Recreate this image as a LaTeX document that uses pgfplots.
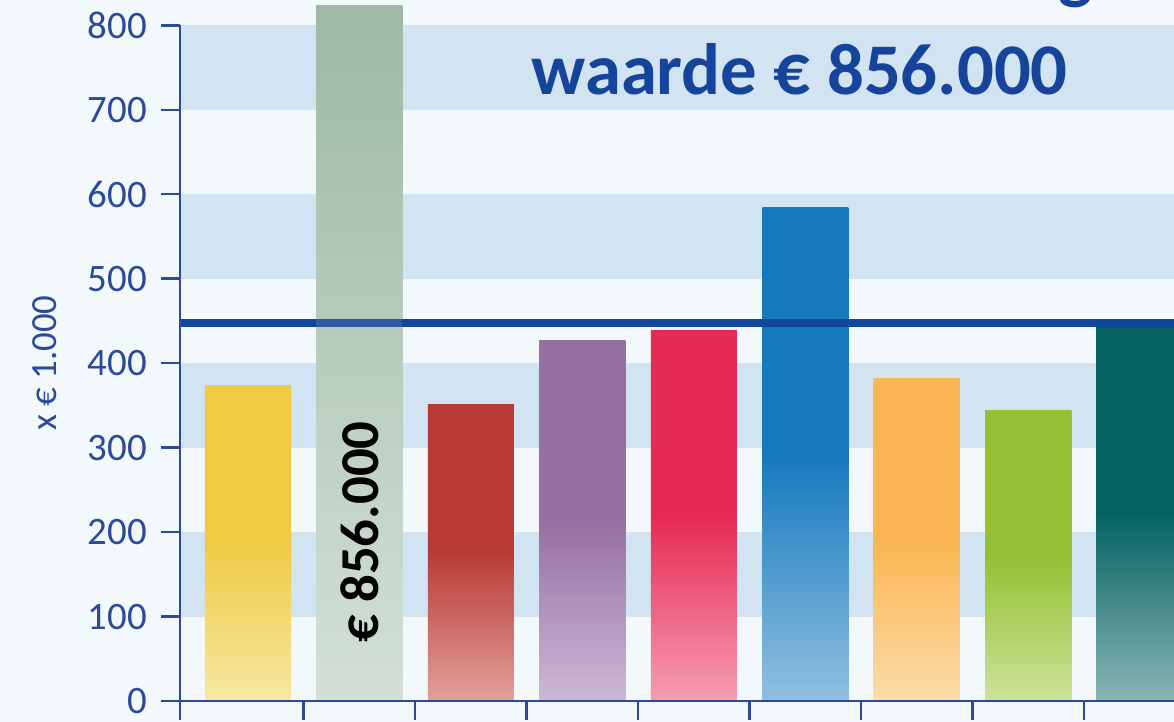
\documentclass[border=0pt]{standalone}
\usepackage{fontspec}
\setmainfont{Carlito}
\usepackage{pgfplots}
\pgfplotsset{compat=1.18}
\definecolor{bg}{HTML}{F3F8FC}
\definecolor{band}{HTML}{D2E4F1}
\definecolor{axc}{HTML}{2B4A9B}
\definecolor{ttl}{HTML}{16449A}
\definecolor{avg}{HTML}{12469A}
\definecolor{avgL}{HTML}{2F5BA0}
\definecolor{c1t}{HTML}{EECB43}\definecolor{c1b}{HTML}{F8E7A3}
\definecolor{c2t}{HTML}{9DB9A5}\definecolor{c2b}{HTML}{D3E0D7}
\definecolor{c3t}{HTML}{B93A35}\definecolor{c3b}{HTML}{E2A19C}
\definecolor{c4t}{HTML}{9670A3}\definecolor{c4b}{HTML}{CDB8D6}
\definecolor{c5t}{HTML}{E62A55}\definecolor{c5b}{HTML}{F59DB3}
\definecolor{c6t}{HTML}{1579BE}\definecolor{c6b}{HTML}{91C0E0}
\definecolor{c7t}{HTML}{FAB652}\definecolor{c7b}{HTML}{FCDCA9}
\definecolor{c8t}{HTML}{94C133}\definecolor{c8b}{HTML}{CDE29A}
\definecolor{c9t}{HTML}{046262}\definecolor{c9b}{HTML}{8AB5B5}
\pgfplotsset{
  mybar/.style={ybar, bar width=0.772, bar shift=0pt, draw=none, forget plot},
}
\begin{document}
\begin{tikzpicture}[x=1bp,y=1bp]
\fill[bg] (0,0) rectangle (1174,722);
\begin{axis}[
  at={(180bp,21bp)}, anchor=south west,
  width=994bp, height=675.7bp, scale only axis,
  xmin=-0.61, xmax=8.308, ymin=0, ymax=800,
  clip=false, axis on top=true,
  axis x line*=bottom, axis y line*=left,
  axis line style={axc, line width=2.5bp},
  tick style={axc, line width=2.5bp},
  major tick length=19bp, tick align=outside,
  xtick={-0.61,0.5,1.5,2.5,3.5,4.5,5.5,6.5,7.5},
  xticklabels={},
  ytick={0,100,...,800},
  yticklabel style={font=\fontsize{39}{47}\selectfont, text=axc, inner sep=0pt, xshift=-14bp},
  /pgf/number format/assume math mode=true,
]
\fill[band] (axis cs:-0.61,100) rectangle (axis cs:8.308,200);
\fill[band] (axis cs:-0.61,300) rectangle (axis cs:8.308,400);
\fill[band] (axis cs:-0.61,500) rectangle (axis cs:8.308,600);
\fill[band] (axis cs:-0.61,700) rectangle (axis cs:8.308,800);

\addplot[mybar, top color=c1t, bottom color=c1b, middle color=c1t] coordinates {(0,373.3)};
\addplot[mybar, top color=c2t, bottom color=c2b] coordinates {(1,823)};
\addplot[mybar, top color=c3t, bottom color=c3b, middle color=c3t] coordinates {(2,350.8)};
\addplot[mybar, top color=c4t, bottom color=c4b, middle color=c4t] coordinates {(3,426.6)};
\addplot[mybar, top color=c5t, bottom color=c5b, middle color=c5t] coordinates {(4,438.1)};
\addplot[mybar, top color=c6t, bottom color=c6b, middle color=c6t] coordinates {(5,583.7)};
\addplot[mybar, top color=c7t, bottom color=c7b, middle color=c7t] coordinates {(6,382.4)};
\addplot[mybar, top color=c8t, bottom color=c8b, middle color=c8t] coordinates {(7,344.5)};
\addplot[mybar, top color=c9t, bottom color=c9b, middle color=c9t] coordinates {(8,446)};

\addplot[avg, line width=7.4bp, forget plot] coordinates {(-0.61,447.5) (0.614,447.5)};
\addplot[avgL, line width=7.4bp, forget plot] coordinates {(0.614,447.5) (1.386,447.5)};
\addplot[avg, line width=7.4bp, forget plot] coordinates {(1.386,447.5) (8.308,447.5)};

\node[rotate=90, font=\fontsize{55}{66}\selectfont\bfseries, text=black] at (axis cs:1,200) {€ 856.000};
\end{axis}
\node[rotate=90, text=axc, font=\fontsize{37}{44}\selectfont] at (45,359) {x € 1.000};
\node[anchor=base east, inner sep=0pt, text=ttl, font=\fontsize{73}{88}\selectfont\bfseries] at (1068,627) {waarde € 856.000};
\node[anchor=base east, inner sep=0pt, text=ttl, font=\fontsize{73}{88}\selectfont\bfseries] at (1093,726) {Gemiddelde woning};
\pgfresetboundingbox
\useasboundingbox (0,0) rectangle (1174,722);
\end{tikzpicture}
\end{document}
